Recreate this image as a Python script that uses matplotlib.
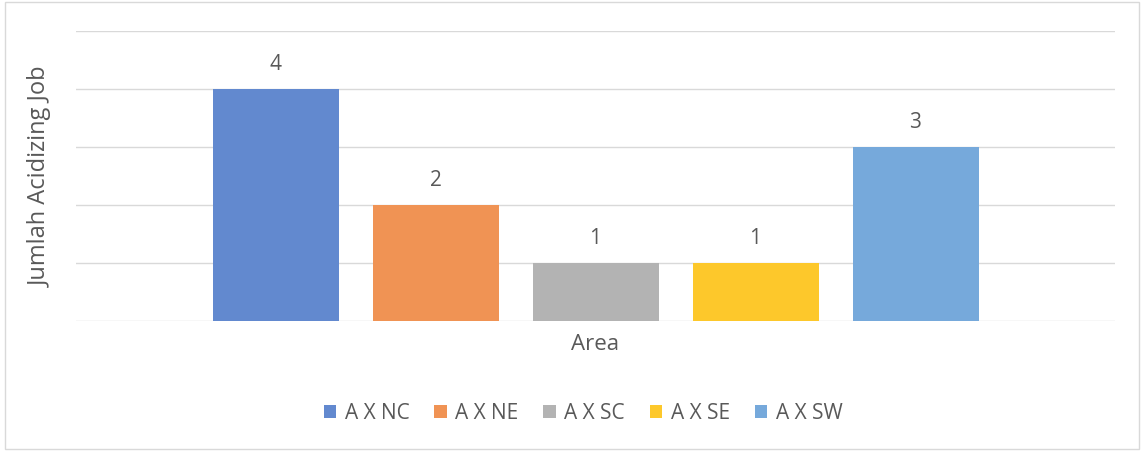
import matplotlib
matplotlib.use("Agg")
import matplotlib.pyplot as plt
from matplotlib.patches import Rectangle

series = ["A X NC", "A X NE", "A X SC", "A X SE", "A X SW"]
values = [4, 2, 1, 1, 3]
colors = ["#6289CF", "#F09354", "#B3B3B3", "#FDC82B", "#76A9DB"]
category = "Area"
ylabel = "Jumlah Acidizing Job"

plt.rcParams['font.family'] = ['Open Sans', 'DejaVu Sans']
txt = "#595959"

fig = plt.figure(figsize=(11.41, 4.52), dpi=100)
fig.patches.append(Rectangle((5/1141, 2/452), 1134/1141, 447/452, transform=fig.transFigure,
                             fill=False, edgecolor="#D9D9D9", linewidth=1))
ax = fig.add_axes([76/1141, 1 - 322/452, (1115 - 76)/1141, 290/452])

n = len(series)
width = 126 / 160
half = (1039 / 2) / 160
for i, (s, v, c) in enumerate(zip(series, values, colors)):
    x = i - (n - 1) / 2
    ax.bar(x, v, width=width, color=c, label=s, zorder=3)
    ax.text(x, v + 0.44, str(v), ha="center", va="center", fontsize=15, color=txt)

ax.set_xlim(-half, half)
ax.set_ylim(0, 5)
ax.set_yticks(range(0, 6))
ax.set_yticklabels([])
ax.tick_params(axis="y", length=0)
ax.grid(axis="y", color="#D9D9D9", linewidth=1, zorder=0)
ax.set_xticks([0])
ax.set_xticklabels([category], fontsize=16, color=txt)
ax.tick_params(axis="x", length=0, pad=9)
for sp in ax.spines.values():
    sp.set_visible(False)
ax.set_ylabel(ylabel, fontsize=17, color=txt, labelpad=13)

leg = fig.legend(loc="center", bbox_to_anchor=(0.511, 1 - 414/452), ncol=5, frameon=False,
                 fontsize=15, handlelength=0.6, handleheight=0.6, handletextpad=0.4,
                 columnspacing=1.2, labelcolor=txt)

fig.savefig("out.png", dpi=100)
